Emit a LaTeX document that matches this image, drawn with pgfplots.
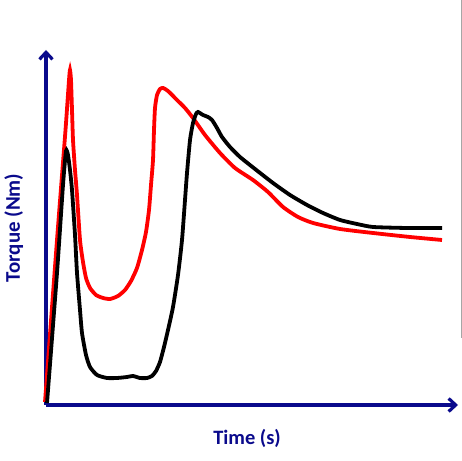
\documentclass[border=0pt]{standalone}
\usepackage{pgfplots}
\pgfplotsset{compat=1.18}
\usepackage{fontspec}
\setmainfont{Carlito}
\usetikzlibrary{arrows.meta}
\definecolor{navy}{RGB}{10,10,140}
\begin{document}
\begin{tikzpicture}[x=1bp,y=1bp]
\path[use as bounding box] (0,0) rectangle (462,461);
\draw[gray!70, line width=0.8bp] (461,461) -- (461,123);
\begin{axis}[
  at={(46bp,56bp)}, anchor=origin,
  scale only axis, width=412bp, height=355bp,
  xmin=46, xmax=458, ymin=0, ymax=355,
  axis lines=left, ticks=none, clip=false,
  axis line style={navy, line width=3.2bp, -{Straight Barb[length=7bp,width=13bp,line width=3.2bp]}},
  xlabel={\fontsize{20.5}{24}\selectfont\bfseries Time (s)},
  ylabel={\fontsize{21}{25}\selectfont\bfseries Torque (Nm)},
  x label style={navy, at={(axis description cs:0.488,-0.093)}, anchor=center},
  y label style={navy, at={(axis description cs:-0.078,0.499)}, anchor=center, rotate=0},
]
\addplot[red, line width=3.8bp, smooth, tension=0.35] coordinates {
(45,3) (57,165) (65.5,275) (69,325) (70,335) (71,325) (72,295) (73,265) (75,235) (77,210)
(80,165) (83,143) (86,127) (90,117) (96,110) (103,107) (110,106) (118,109) (125,115)
(131,124) (137,137) (142,155) (146,173) (149,195) (151,220) (153,245) (154,275) (155,297)
(157,310) (160,316) (163,317) (168,314) (177,305) (185,297) (193,287) (205,270) (220,252)
(235,237) (253,225) (268,213) (283,198) (298,188) (313,182) (340,176) (373,172) (410,168) (442,165)
};
\addplot[black, line width=3.8bp, smooth, tension=0.35] coordinates {
(47,2) (57,132) (63,220) (66,254) (68,250) (70,235) (72,215) (75,170) (77,132) (80,95)
(82,72) (86,50) (90,38) (97,30) (107,27) (117,27) (127,28) (133,29) (140,27) (147,27)
(152,29) (156,34) (160,43) (164,58) (168,75) (173,98) (178,130) (182,165) (185,205)
(187,232) (190,265) (193,282) (196,291) (198,293) (203,290) (208,288) (212,285) (217,277)
(222,268) (230,258) (240,248) (255,236) (273,222) (290,210) (307,200) (323,192) (340,185)
(357,181) (373,178) (407,177) (442,177)
};
\end{axis}
\end{tikzpicture}
\end{document}
